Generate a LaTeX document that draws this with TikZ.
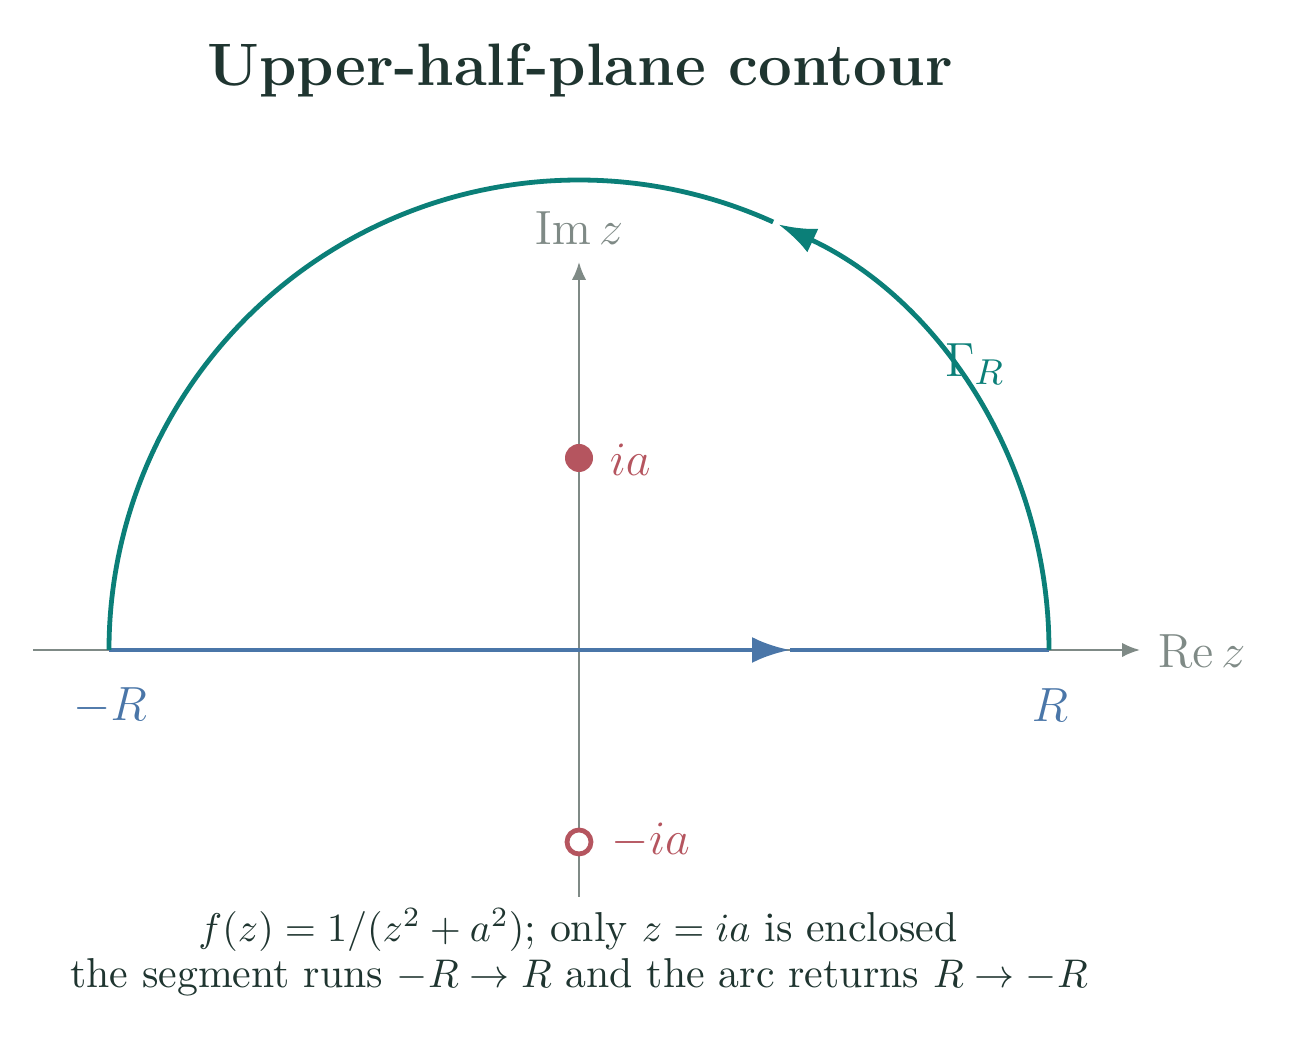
\documentclass[tikz,border=0pt]{standalone}
\usetikzlibrary{arrows.meta}
\definecolor{arcteal}{HTML}{0B7F78}
\definecolor{segblue}{HTML}{4A76A8}
\definecolor{axisgray}{HTML}{7F8A86}
\definecolor{polered}{HTML}{B5555F}
\definecolor{inkdark}{HTML}{1F3530}
\begin{document}
\begin{tikzpicture}[x=0.25pt,y=0.25pt,
  axis/.style={draw=axisgray, line width=0.5pt, -{Latex[length=4.5pt,width=3.6pt]}},
  segline/.style={draw=segblue, line width=1.2pt},
  arcline/.style={draw=arcteal, line width=1.2pt},
  tipstyle/.style={-{Latex[length=9.5pt,width=6.5pt]}},
  axlabel/.style={text=axisgray, font=\fontsize{12.44}{15}\selectfont, inner sep=0pt},
  endlabel/.style={text=segblue, font=\fontsize{12.44}{15}\selectfont, inner sep=0pt},
  polelabel/.style={text=polered, font=\fontsize{12.44}{15}\selectfont, inner sep=0pt},
  polefull/.style={circle, fill=polered, inner sep=0pt, minimum size=7pt},
  poleopen/.style={circle, draw=polered, line width=1.2pt, fill=white, inner sep=0pt, minimum size=6pt},
  caption/.style={text=inkdark, font=\fontsize{10.45}{12.5}\selectfont, inner sep=0pt, align=center}
]
\useasboundingbox (0,0) rectangle (1297,1048);
\coordinate (O) at (579,398);
\coordinate (xl) at (33,398);
\coordinate (xr) at (1140,398);
\coordinate (yb) at (579,151);
\coordinate (yt) at (579,786);
\coordinate (A) at (109,398);
\coordinate (B) at (1049,398);
\coordinate (M) at (790,398);
% axes
\draw[axis] (xl) -- (xr);
\draw[axis] (yb) -- (yt);
\node[axlabel, anchor=base west] (re) at (1157,380) {$\mathrm{Re}\,z$};
\node[axlabel, anchor=base] (im) at (579,803) {$\mathrm{Im}\,z$};
% segment
\draw[segline, tipstyle] (A) -- (M);
\draw[segline] (M) -- (B);
% arc
\draw[arcline, tipstyle] (B) arc[start angle=0, end angle=64.9, radius=470];
\draw[arcline] ([shift={(O)}]65.6:470) arc[start angle=65.6, end angle=180, radius=470];
% labels
\node[endlabel] (lr) at (1050,343) {$R$};
\node[endlabel] (ll) at (110,342) {$-R$};
\node[text=arcteal, font=\fontsize{12.44}{15}\selectfont, inner sep=0pt] (gam) at (975,684) {$\Gamma_R$};
% poles
\node[polefull] (p1) at (579,590) {};
\node[polelabel, anchor=west] (p1l) at (609,588) {$ia$};
\node[poleopen] (p2) at (579,206) {};
\node[polelabel, anchor=west] (p2l) at (611,207) {$-ia$};
% title
\node[text=inkdark, font=\fontsize{14.98}{18}\selectfont\bfseries, inner sep=0pt] (title) at (580,978) {Upper-half-plane contour};
% caption
\node[caption] (cap1) at (578,118) {$f(z)=1/(z^2+a^2)$; only $z=ia$ is enclosed};
\node[caption] (cap2) at (579,71) {the segment runs $-R\to R$ and the arc returns $R\to -R$};
\end{tikzpicture}
\end{document}
